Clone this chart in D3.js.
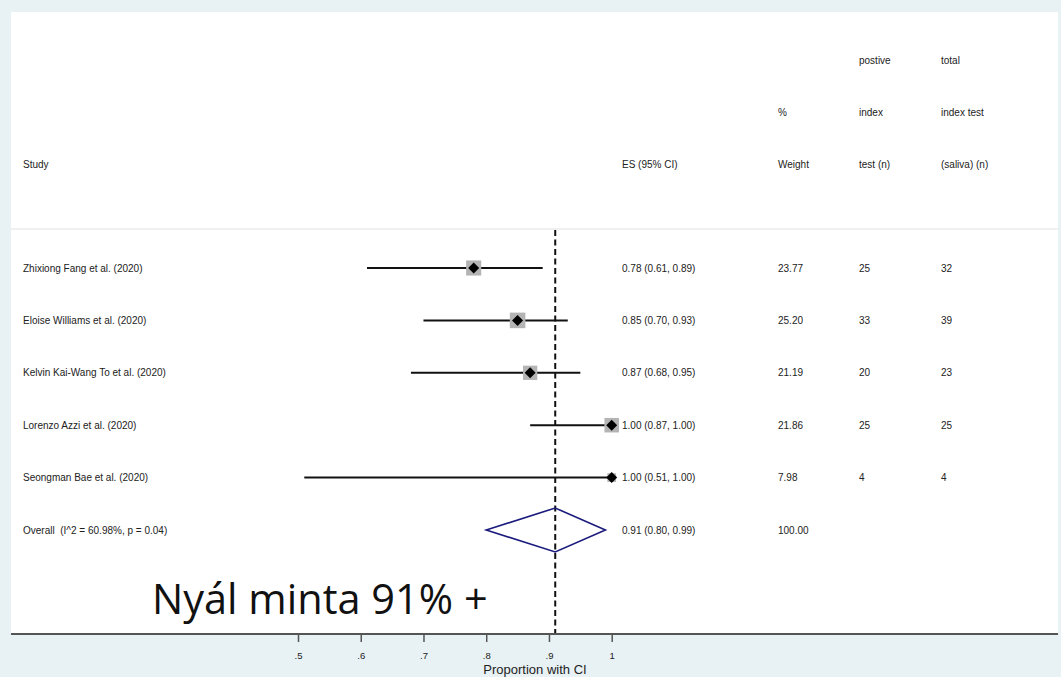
<!DOCTYPE html>
<html><head><meta charset="utf-8">
<script src="https://cdn.jsdelivr.net/npm/d3@7"></script>
<style>
html,body{margin:0;padding:0;background:#e8f1f3;}
svg{display:block;}
text{font-family:"Liberation Sans",Arial,sans-serif;fill:#222;white-space:pre;}
</style></head>
<body>
<svg id="c" width="1061" height="677"></svg>
<script>
const studies = ["Zhixiong Fang et al. (2020)","Eloise Williams et al. (2020)","Kelvin Kai-Wang To et al. (2020)","Lorenzo Azzi et al. (2020)","Seongman Bae et al. (2020)"];
const es = [0.78, 0.85, 0.87, 1.00, 1.00];
const lo = [0.61, 0.70, 0.68, 0.87, 0.51];
const hi = [0.89, 0.93, 0.95, 1.00, 1.00];
const weights = ["23.77","25.20","21.19","21.86","7.98"];
const positive = ["25","33","20","25","4"];
const total = ["32","39","23","25","4"];
const overallLabel = "Overall  (I^2 = 60.98%, p = 0.04)";
const overall = {es:0.91, lo:0.80, hi:0.99, weight:"100.00"};
const tickValues = [0.5,0.6,0.7,0.8,0.9,1];
const tickLabels = [".5",".6",".7",".8",".9","1"];
const headerLines = [
  {col:"study", lines:["","","Study"]},
  {col:"es", lines:["","","ES (95% CI)"]},
  {col:"w", lines:["","%","Weight"]},
  {col:"pos", lines:["postive","index","test (n)"]},
  {col:"tot", lines:["total","index test","(saliva) (n)"]}
];

const svg = d3.select("#c");
const f2 = d3.format(".2f");
const colX = {study:23, es:622, w:778, pos:859, tot:941};

// panel
svg.append("rect").attr("x",11).attr("y",12).attr("width",1047).attr("height",622).attr("fill","#fff");

const x = d3.scaleLinear().domain([0.5,1]).range([298,611.7]);
const rows = studies.concat([overallLabel]);
const y = d3.scalePoint().domain(rows).range([268,530]);
const hy = d3.scalePoint().domain([0,1,2]).range([60,164]);

// header
headerLines.forEach(h=>{
  h.lines.forEach((t,i)=>{
    if(!t) return;
    svg.append("text").attr("x",colX[h.col]).attr("y",hy(i)+3.5).attr("font-size",10).text(t);
  });
});
// separator
svg.append("line").attr("x1",11).attr("x2",1058).attr("y1",229).attr("y2",229).attr("stroke","#e2e2e2").attr("stroke-width",1.2);

// null / overall line
svg.append("line").attr("x1",x(overall.es)).attr("x2",x(overall.es)).attr("y1",230).attr("y2",633)
  .attr("stroke","#111").attr("stroke-width",2).attr("stroke-dasharray","6,3.5");

// studies
const data = studies.map((s,i)=>({s, es:es[i], lo:lo[i], hi:hi[i], w:weights[i], p:positive[i], t:total[i]}));
const g = svg.append("g");
data.forEach(d=>{
  const yc = y(d.s);
  g.append("line").attr("x1",x(d.lo)).attr("x2",x(d.hi)).attr("y1",yc).attr("y2",yc).attr("stroke","#111").attr("stroke-width",2);
  const side = 3.1*Math.sqrt(+d.w);
  g.append("rect").attr("x",x(d.es)-side/2).attr("y",yc-side/2).attr("width",side).attr("height",side).attr("fill","#b4b4b4");
  const r = 5.5;
  g.append("path").attr("d",`M${x(d.es)-r},${yc}L${x(d.es)},${yc-r}L${x(d.es)+r},${yc}L${x(d.es)},${yc+r}Z`).attr("fill","#000");
  g.append("text").attr("x",colX.study).attr("y",yc+3.5).attr("font-size",10).text(d.s);
  g.append("text").attr("x",colX.es).attr("y",yc+3.5).attr("font-size",10).text(`${f2(d.es)} (${f2(d.lo)}, ${f2(d.hi)})`);
  g.append("text").attr("x",colX.w).attr("y",yc+3.5).attr("font-size",10).text(d.w);
  g.append("text").attr("x",colX.pos).attr("y",yc+3.5).attr("font-size",10).text(d.p);
  g.append("text").attr("x",colX.tot).attr("y",yc+3.5).attr("font-size",10).text(d.t);
});

// overall
const yo = y(overallLabel);
svg.append("path").attr("d",`M${x(overall.lo)},${yo}L${x(overall.es)},${yo-22}L${x(overall.hi)},${yo}L${x(overall.es)},${yo+22}Z`)
  .attr("fill","none").attr("stroke","#1b1b7d").attr("stroke-width",1.6);
svg.append("text").attr("x",colX.study).attr("y",yo+3.5).attr("font-size",10).text(overallLabel);
svg.append("text").attr("x",colX.es).attr("y",yo+3.5).attr("font-size",10).text(`${f2(overall.es)} (${f2(overall.lo)}, ${f2(overall.hi)})`);
svg.append("text").attr("x",colX.w).attr("y",yo+3.5).attr("font-size",10).text(overall.weight);

// annotation
svg.append("text").attr("x",152).attr("y",614).attr("font-size",41.5).style("font-family","'Open Sans',sans-serif").style("fill","#111").text("Nyál minta 91% +");

// axis
svg.append("line").attr("x1",11).attr("x2",1058).attr("y1",634).attr("y2",634).attr("stroke","#555").attr("stroke-width",2);
const ax = svg.append("g").attr("transform","translate(0,634)")
  .call(d3.axisBottom(x).tickValues(tickValues).tickSize(8).tickSizeOuter(0).tickPadding(10)
  .tickFormat((d,i)=>tickLabels[i]));
ax.select(".domain").remove();
ax.selectAll(".tick line").attr("stroke","#555").attr("stroke-width",1.5);
ax.selectAll(".tick text").attr("font-size",9.5).attr("font-family","'Liberation Sans',Arial,sans-serif").style("fill","#222");
svg.append("text").attr("x",535).attr("y",674).attr("text-anchor","middle").attr("font-size",13).text("Proportion with CI");
</script>
</body></html>
